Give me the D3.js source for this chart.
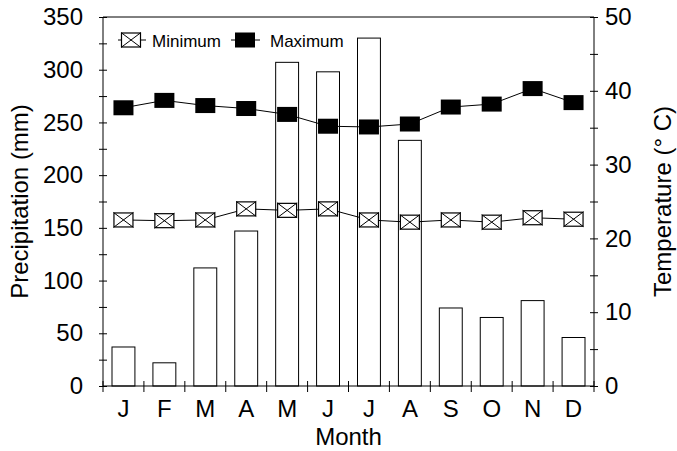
<!DOCTYPE html>
<html>
<head>
<meta charset="utf-8">
<script src="https://cdn.jsdelivr.net/npm/d3@7"></script>
<style>
  body { margin: 0; background: #fff; }
  svg { display: block; font-family: "Liberation Sans", Arial, sans-serif; }
</style>
</head>
<body>
<div id="chart"></div>
<script>
// data
const months = ['J', 'F', 'M', 'A', 'M', 'J', 'J', 'A', 'S', 'O', 'N', 'D'];
const precipitation = [37, 22, 112, 147, 307, 298, 330, 233, 74, 65, 81, 46];
const tempMin = [22.5, 22.4, 22.5, 24.0, 23.8, 24.0, 22.5, 22.2, 22.5, 22.2, 22.8, 22.6];
const tempMax = [37.7, 38.7, 38.0, 37.6, 36.8, 35.2, 35.1, 35.5, 37.8, 38.2, 40.3, 38.4];
const precipTicks = [0, 50, 100, 150, 200, 250, 300, 350];
const tempTicks = [0, 10, 20, 30, 40, 50];

const width = 677, height = 451;
const m = { left: 103, right: 594, top: 17, bottom: 386 };
const fontSize = '24px';

const svg = d3.select('#chart').append('svg')
  .attr('width', width)
  .attr('height', height);

const x = d3.scaleBand().domain(d3.range(months.length)).range([m.left, m.right]).padding(0);
const yP = d3.scaleLinear().domain([0, 350]).range([m.bottom, m.top]);
const yT = d3.scaleLinear().domain([0, 50]).range([m.bottom, m.top]);

const bw = x.bandwidth();

// bars
svg.append('g').selectAll('rect')
  .data(precipitation)
  .enter()
  .append('rect')
  .attr('x', (d, i) => x(i) + bw * 0.22)
  .attr('y', d => yP(d))
  .attr('width', bw * 0.56)
  .attr('height', d => m.bottom - yP(d))
  .attr('fill', '#fff')
  .attr('stroke', '#000')
  .attr('stroke-width', 1);

// frame top line
svg.append('line')
  .attr('x1', m.left).attr('x2', m.right)
  .attr('y1', m.top).attr('y2', m.top)
  .attr('stroke', '#000');

// left axis
const gL = svg.append('g')
  .attr('transform', `translate(${m.left},0)`)
  .call(d3.axisLeft(yP).tickValues(d3.range(0, 351, 25)).tickSize(4).tickPadding(16)
    .tickFormat(d => precipTicks.includes(d) ? d : ''));
gL.selectAll('.tick line').attr('x1', -4).attr('x2', 4);
gL.select('.domain').attr('d', `M0,${m.bottom}V${m.top}`);
gL.selectAll('text').style('font-size', fontSize).attr('fill', '#000');

// right axis
const gR = svg.append('g')
  .attr('transform', `translate(${m.right},0)`)
  .call(d3.axisRight(yT).tickValues(d3.range(0, 51, 5)).tickSize(4).tickPadding(7)
    .tickFormat(d => tempTicks.includes(d) ? d : ''));
gR.selectAll('.tick line').attr('x1', -4).attr('x2', 4);
gR.select('.domain').attr('d', `M0,${m.bottom}V${m.top}`);
gR.selectAll('text').style('font-size', fontSize).attr('fill', '#000');

// bottom axis
const gB = svg.append('g')
  .attr('transform', `translate(0,${m.bottom})`)
  .call(d3.axisBottom(x).tickSize(0).tickPadding(14).tickFormat(i => months[i]));
gB.select('.domain').attr('d', `M${m.left},0H${m.right}`);
gB.selectAll('text').style('font-size', fontSize).attr('fill', '#000');
gB.selectAll('.tick line').remove();
svg.append('g').selectAll('line')
  .data(d3.range(0, 13))
  .enter()
  .append('line')
  .attr('x1', i => m.left + i * bw).attr('x2', i => m.left + i * bw)
  .attr('y1', m.bottom - 5).attr('y2', m.bottom + 6)
  .attr('stroke', '#000');

// temperature lines
const line = d3.line()
  .x((d, i) => x(i) + bw / 2)
  .y(d => yT(d));

svg.append('path').datum(tempMax).attr('d', line)
  .attr('fill', 'none').attr('stroke', '#000').attr('stroke-width', 1);
svg.append('path').datum(tempMin).attr('d', line)
  .attr('fill', 'none').attr('stroke', '#000').attr('stroke-width', 1);

const mw = 20, mh = 15;

function drawMax(g, cx, cy) {
  g.append('rect')
    .attr('x', cx - mw / 2).attr('y', cy - mh / 2)
    .attr('width', mw).attr('height', mh)
    .attr('fill', '#000');
}
function drawMin(g, cx, cy) {
  g.append('rect')
    .attr('x', cx - mw / 2 + 0.5).attr('y', cy - mh / 2 + 0.5)
    .attr('width', mw - 1).attr('height', mh - 1)
    .attr('fill', '#fff').attr('stroke', '#000').attr('stroke-width', 1.2);
  g.append('path')
    .attr('d', `M${cx - mw / 2},${cy - mh / 2}L${cx + mw / 2},${cy + mh / 2}M${cx - mw / 2},${cy + mh / 2}L${cx + mw / 2},${cy - mh / 2}`)
    .attr('stroke', '#000').attr('stroke-width', 1);
}

const gMarks = svg.append('g');
tempMax.forEach((d, i) => drawMax(gMarks, x(i) + bw / 2, yT(d)));
tempMin.forEach((d, i) => drawMin(gMarks, x(i) + bw / 2, yT(d)));

// legend
const lg = svg.append('g');
lg.append('line').attr('x1', 118).attr('x2', 146).attr('y1', 40).attr('y2', 40).attr('stroke', '#000');
drawMin(lg, 131, 40);
lg.append('text').attr('x', 152).attr('y', 46.5).style('font-size', '17px').text('Minimum');
lg.append('line').attr('x1', 231).attr('x2', 260).attr('y1', 40).attr('y2', 40).attr('stroke', '#000');
drawMax(lg, 245, 40);
lg.append('text').attr('x', 270).attr('y', 46.5).style('font-size', '17px').text('Maximum');

// axis titles
svg.append('text')
  .attr('transform', `translate(28,${(m.top + m.bottom) / 2}) rotate(-90)`)
  .attr('text-anchor', 'middle')
  .style('font-size', fontSize)
  .text('Precipitation (mm)');
svg.append('text')
  .attr('transform', `translate(671,${(m.top + m.bottom) / 2}) rotate(-90)`)
  .attr('text-anchor', 'middle')
  .style('font-size', fontSize)
  .text('Temperature (° C)');
svg.append('text')
  .attr('x', (m.left + m.right) / 2)
  .attr('y', 445)
  .attr('text-anchor', 'middle')
  .style('font-size', fontSize)
  .text('Month');
</script>
</body>
</html>
